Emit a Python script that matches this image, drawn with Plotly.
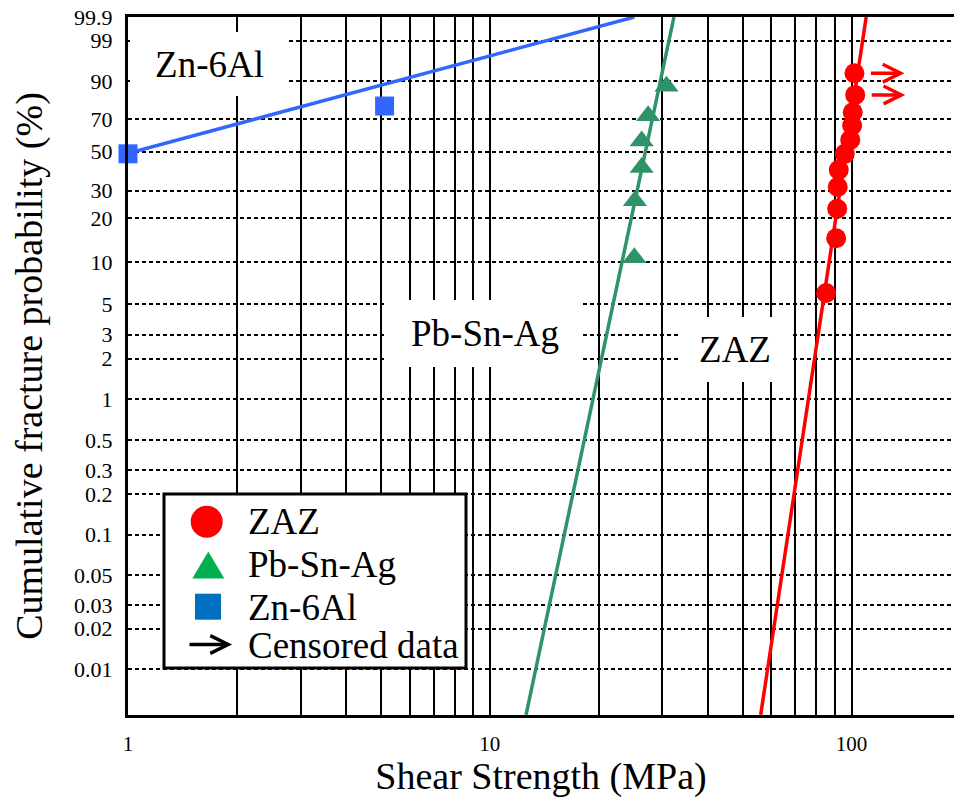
import numpy as np
import plotly.graph_objects as go

# ---------------- data ----------------
# ZAZ (red circles); last two points are censored (arrows to the right)
zaz_strength = [85.1, 90.7, 91.3, 91.6, 92.2, 95.8, 99.2, 100.4, 100.8, 102.4, 101.9]
zaz_prob = [6.0, 14.6, 23.0, 31.5, 39.8, 48.7, 57.1, 66.1, 74.3, 83.9, 92.9]
zaz_censored = [False, False, False, False, False, False, False, False, False, True, True]

# Pb-Sn-Ag (green triangles)
pbsnag_strength = [25.1, 25.2, 26.3, 26.3, 27.4, 30.8]
pbsnag_prob = [10.7, 25.9, 41.0, 56.5, 72.1, 88.0]

# Zn-6Al (blue squares)
zn6al_strength = [1.0, 5.12]
zn6al_prob = [48.7, 77.9]

# Fitted Weibull lines (two end points each: strength, probability %)
zaz_fit_strength = [56.1, 109.8]
zaz_fit_prob = [0.0046, 99.9]
pbsnag_fit_strength = [12.6, 32.3]
pbsnag_fit_prob = [0.0046, 99.9]
zn6al_fit_strength = [1.0, 25.1]
zn6al_fit_prob = [49.0, 99.9]

# Axis ticks
y_tick_probs = [99.9, 99, 90, 70, 50, 30, 20, 10, 5, 3, 2, 1, 0.5, 0.3, 0.2, 0.1, 0.05, 0.03, 0.02, 0.01]
y_tick_labels = ["99.9", "99", "90", "70", "50", "30", "20", "10", "5", "3", "2", "1",
                 "0.5", "0.3", "0.2", "0.1", "0.05", "0.03", "0.02", "0.01"]
y_decade_probs = [10, 1, 0.1, 0.01]
x_tick_vals = [1, 10, 100]
x_tick_labels = ["1", "10", "100"]

series_names = ["ZAZ", "Pb-Sn-Ag", "Zn-6Al"]

# ---------------- styling ----------------
RED = "#FF0000"
GREEN = "#2E9467"
BLUE = "#3366FF"
LEG_GREEN = "#00B050"
LEG_BLUE = "#0070C0"
FONT = "Liberation Serif, Times New Roman, serif"

W, H = 954, 798
PL, PR, PT, PB = 128, 954, 17, 715
PX_PER_DEC = 361.75


def wy(p):
    p = np.asarray(p, dtype=float) / 100.0
    return np.log(-np.log(1.0 - p))


def px(x):
    return (x - PL) / (PR - PL)


def py(y):
    return (PB - y) / (PB - PT)


fig = go.Figure()

# fitted lines
for xs, ps, col in [(zn6al_fit_strength, zn6al_fit_prob, BLUE),
                    (pbsnag_fit_strength, pbsnag_fit_prob, GREEN),
                    (zaz_fit_strength, zaz_fit_prob, RED)]:
    fig.add_trace(go.Scatter(x=xs, y=wy(ps), mode="lines",
                             line=dict(color=col, width=3.5),
                             showlegend=False, hoverinfo="skip"))

# data points
fig.add_trace(go.Scatter(x=zn6al_strength, y=wy(zn6al_prob), mode="markers",
                         name=series_names[2],
                         marker=dict(symbol="square", size=19, color=BLUE),
                         cliponaxis=False))
fig.add_trace(go.Scatter(x=pbsnag_strength, y=wy(pbsnag_prob), mode="markers",
                         name=series_names[1],
                         marker=dict(symbol="triangle-up", size=21, color=GREEN)))
fig.add_trace(go.Scatter(x=zaz_strength, y=wy(zaz_prob), mode="markers",
                         name=series_names[0],
                         marker=dict(symbol="circle", size=20, color=RED)))

annotations = []
# censored arrows for ZAZ
for xv, pv, c in zip(zaz_strength, zaz_prob, zaz_censored):
    if c:
        lx = np.log10(xv)
        yv = float(wy(pv))
        annotations.append(dict(
            x=lx + 50 / PX_PER_DEC, y=yv, ax=lx + 15 / PX_PER_DEC, ay=yv,
            xref="x", yref="y", axref="x", ayref="y", text="",
            showarrow=True, arrowhead=5, arrowwidth=3.5, arrowsize=1,
            arrowcolor=RED))

# labels with white boxes
for txt, cx, cy, bw, bh in [("Zn-6Al", 209.5, 64, 159, 64),
                            ("Pb-Sn-Ag", 485, 333.5, 196, 67),
                            ("ZAZ", 735, 349.5, 114, 65)]:
    annotations.append(dict(
        x=px(cx), y=py(cy), xref="paper", yref="paper", text=txt,
        showarrow=False, font=dict(family=FONT, size=37, color="black"),
        bgcolor="white", width=bw, height=bh, borderpad=0, borderwidth=0,
        xanchor="center", yanchor="middle"))

# manual legend
shapes = []
shapes.append(dict(type="rect", xref="paper", yref="paper",
                   x0=px(164), x1=px(466), y0=py(668), y1=py(494),
                   line=dict(color="black", width=3), fillcolor="white", layer="above"))
shapes.append(dict(type="circle", xref="paper", yref="paper",
                   x0=px(190.7), x1=px(222.7), y0=py(537.7), y1=py(505.7),
                   line=dict(width=0), fillcolor=RED, layer="above"))
shapes.append(dict(type="path", xref="paper", yref="paper",
                   path="M {} {} L {} {} L {} {} Z".format(px(192.3), py(578.5), px(224.3), py(578.5),
                                                         px(208.3), py(551.5)),
                   line=dict(width=0), fillcolor=LEG_GREEN, layer="above"))
shapes.append(dict(type="rect", xref="paper", yref="paper",
                   x0=px(195), x1=px(221), y0=py(619.7), y1=py(593.7),
                   line=dict(width=0), fillcolor=LEG_BLUE, layer="above"))
annotations.append(dict(x=px(232), y=py(644.5), xref="paper", yref="paper", text="",
                        ax=-44, ay=0, showarrow=True, arrowhead=5, arrowwidth=3.5,
                        arrowsize=1, arrowcolor="black"))
for txt, cy in zip(series_names + ["Censored data"], [521.7, 564, 607, 645]):
    annotations.append(dict(x=px(246), y=py(cy), xref="paper", yref="paper", text=txt,
                            showarrow=False, xanchor="left", yanchor="middle",
                            font=dict(family=FONT, size=37, color="black")))

fig.update_layout(
    width=W, height=H,
    margin=dict(l=PL, r=W - PR, t=PT, b=H - PB),
    paper_bgcolor="white", plot_bgcolor="white",
    showlegend=False, hovermode=False,
    font=dict(family=FONT, color="black"),
    xaxis=dict(type="log", range=[0, (PR - PL) / PX_PER_DEC], automargin=False,
               tickvals=x_tick_vals, ticktext=x_tick_labels,
               showgrid=True, gridcolor="black", gridwidth=2,
               minor=dict(dtick="D1", showgrid=True, gridcolor="black", gridwidth=2),
               showline=True, linecolor="black", linewidth=3, mirror=True,
               ticks="", tickfont=dict(size=21, family=FONT, color="black"), ticklabelstandoff=8,
               zeroline=False,
               title=dict(text="Shear Strength (MPa)", font=dict(size=38, family=FONT, color="black"),
                          standoff=24)),
    yaxis=dict(range=[-9.99, float(wy(99.9))], automargin=False,
               tickvals=wy(y_tick_probs), ticktext=y_tick_labels,
               showgrid=True, gridcolor="black", gridwidth=2, griddash="4px,3px",
               minor=dict(tickvals=wy(y_decade_probs), showgrid=True, gridcolor="black", gridwidth=2),
               showline=True, linecolor="black", linewidth=3, mirror=False,
               ticks="", tickfont=dict(size=22, family=FONT, color="black"), ticklabelstandoff=8,
               zeroline=False,
               title=dict(text="Cumulative fracture probability (%)",
                          font=dict(size=38, family=FONT, color="black"), standoff=20)),
    annotations=annotations, shapes=shapes,
)

fig.write_html("out.html")
